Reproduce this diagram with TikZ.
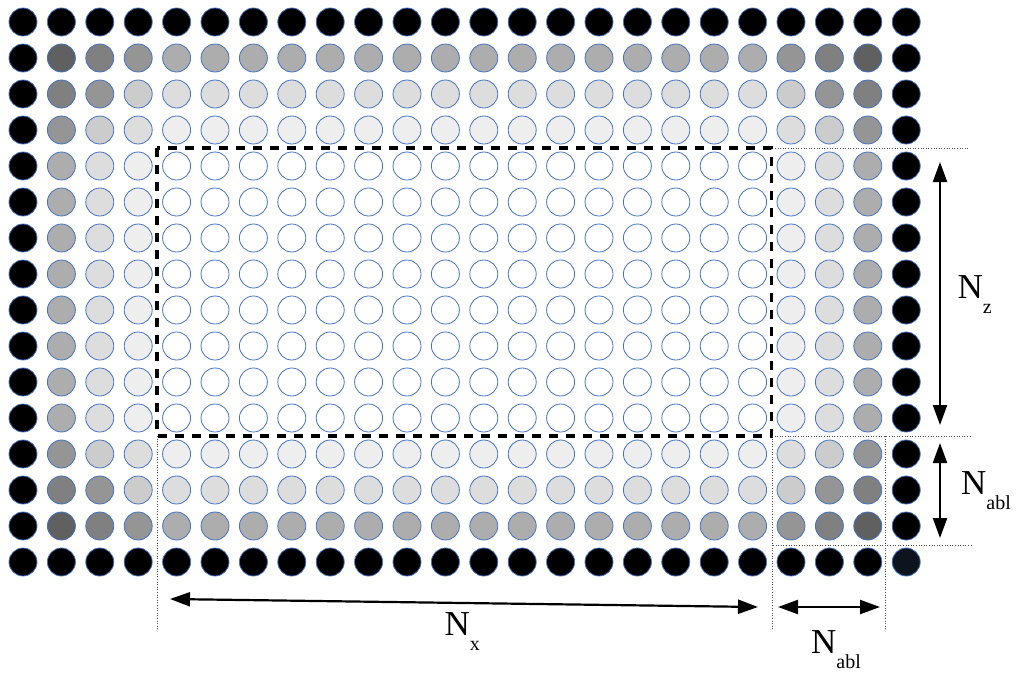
\documentclass[tikz,border=0pt]{standalone}
\usepackage{fontspec}
\setmainfont{Liberation Serif}
\usetikzlibrary{arrows.meta}
\definecolor{olblue}{RGB}{68,114,196}
\definecolor{cornerfill}{RGB}{14,20,30}
\tikzset{
 cell/.style={circle, draw=olblue, line width=0.8pt, minimum size=28pt, inner sep=0pt},
 dotline/.style={draw=black!70, line width=0.8pt, dash pattern=on 1pt off 1.6pt},
 dimarrow/.style={line width=2.2pt, {Triangle[length=20pt,width=14pt]}-{Triangle[length=20pt,width=14pt]}},
 boxline/.style={line width=3.3pt, dash pattern=on 9pt off 8pt},
 lab/.style={anchor=base west, inner sep=0pt, font=\fontsize{35}{35}\selectfont}
}
\newcommand{\Nsub}[1]{N\raisebox{-15.5pt}{\fontsize{20}{20}\selectfont #1}}
\begin{document}
\begin{tikzpicture}[x=1pt,y=-1pt]
\useasboundingbox (0,0) rectangle (1027,678);
\def\lx{{4,3,2,1,0,0,0,0,0,0,0,0,0,0,0,0,0,0,0,0,1,2,3,4}}
\def\ly{{4,3,2,1,0,0,0,0,0,0,0,0,1,2,3,4}}
\def\gtab{{255,238,221,173,0,238,221,204,149,0,221,204,149,128,0,173,149,128,96,0,0,0,0,0,0}}
\foreach \i in {0,...,23}{
 \foreach \j in {0,...,15}{
  \pgfmathtruncatemacro{\a}{\lx[\i]}
  \pgfmathtruncatemacro{\b}{\ly[\j]}
  \pgfmathtruncatemacro{\g}{\gtab[\a*5+\b]}
  \pgfmathtruncatemacro{\cn}{and(\i==23,\j==15)}
  \ifnum\cn=1 \colorlet{cf}{cornerfill}\else\definecolor{cf}{RGB}{\g,\g,\g}\fi
  \node[cell, fill=cf] (c-\i-\j) at ({23+\i*38.4},{22+\j*36}) {};
 }
}
% dashed interior box
\draw[boxline] (157,148) rectangle (771.5,436);
% dotted guide lines
\coordinate (h1a) at (775,148); \coordinate (h1b) at (970,148);
\coordinate (h2a) at (772,436); \coordinate (h2b) at (970,436);
\coordinate (h3a) at (773,545); \coordinate (h3b) at (971,545);
\coordinate (v1a) at (157,436); \coordinate (v1b) at (157,630);
\coordinate (v2a) at (772,436); \coordinate (v2b) at (772,630);
\coordinate (v3a) at (885,436); \coordinate (v3b) at (885,630);
\draw[dotline] (h1a) -- (h1b);
\draw[dotline] (h2a) -- (h2b);
\draw[dotline] (h3a) -- (h3b);
\draw[dotline] (v1a) -- (v1b);
\draw[dotline] (v2a) -- (v2b);
\draw[dotline] (v3a) -- (v3b);
% dimension arrows
\coordinate (nz1) at (940,162); \coordinate (nz2) at (940,425);
\coordinate (na1) at (940,443); \coordinate (na2) at (940,538);
\coordinate (nx1) at (170,599); \coordinate (nx2) at (758,607);
\coordinate (nb1) at (778,607); \coordinate (nb2) at (880,607);
\draw[dimarrow] (nz1) -- (nz2);
\draw[dimarrow] (na1) -- (na2);
\draw[dimarrow] (nx1) -- (nx2);
\draw[dimarrow] (nb1) -- (nb2);
% labels
\node[lab] (lz) at (957.5,298.3) {\Nsub{z}};
\node[lab] (la1) at (961,494.3) {\Nsub{abl}};
\node[lab] (lx) at (444.5,635) {\Nsub{x}};
\node[lab] (la2) at (811,653.3) {\Nsub{abl}};
\end{tikzpicture}
\end{document}
